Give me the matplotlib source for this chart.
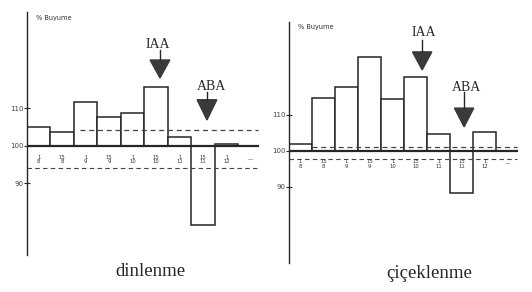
import matplotlib
matplotlib.use("Agg")
import matplotlib.pyplot as plt
from matplotlib.patches import Polygon

# ---- data ----
positions = list(range(10))
left_values = [105.1, 103.7, 111.7, 107.7, 108.8, 115.7, 102.4, 79.0, 100.6]
right_values = [101.9, 114.7, 117.8, 126.1, 114.4, 120.6, 104.7, 88.3, 105.3]
base = 100
tick_vals = [90, 100, 110]
tick_labels = ["90", "100", "110"]
bar_labels = ["1\n8", "15\n8", "1\n9", "15\n9", "1\n10", "15\n10", "1\n11", "15\n11", "1\n12", "—"]
left_title = "dinlenme"
right_title = "çiçeklenme"
ylabel = "% Buyume"
left_upper_dash, left_lower_dash = 104.3, 94.1
right_upper_dash, right_lower_dash = 101.1, 97.8

W, H = 532, 292
fig = plt.figure(figsize=(W / 100, H / 100), dpi=100)
fig.patch.set_facecolor("white")
ink = "#262626"
serif = ["Liberation Serif", "DejaVu Serif"]


def px_axes(x0, x1, y0, y1):
    return fig.add_axes([x0 / W, 1 - y1 / H, (x1 - x0) / W, (y1 - y0) / H])


def draw_panel(ax, values, ylim, xlim, udash, ldash, udash_x0, arrows, title_xy, title):
    ax.set_xlim(*xlim)
    ax.set_ylim(*ylim)
    for s in ["top", "right", "bottom"]:
        ax.spines[s].set_visible(False)
    ax.spines["left"].set_color(ink)
    ax.spines["left"].set_linewidth(1.0)
    ax.set_xticks([])
    ax.set_yticks(tick_vals)
    ax.set_yticklabels(tick_labels, fontsize=5, color="#444")
    ax.tick_params(axis="y", direction="inout", length=5, width=0.8, color=ink, pad=0)
    heights = [v - base for v in values]
    ax.bar(positions[:len(values)], heights, bottom=base, width=1.0, align="edge",
           facecolor="white", edgecolor=ink, linewidth=1.1, zorder=2)
    ax.axhline(base, xmin=0, xmax=0.97, color=ink, lw=1.6, zorder=3)
    ax.hlines(udash, udash_x0, xlim[1] - 0.3, colors="#444", linestyles=(0, (4, 3)), lw=0.9, zorder=3)
    ax.hlines(ldash, 0, xlim[1] - 0.3, colors="#444", linestyles=(0, (4, 3)), lw=0.8, zorder=3)
    for p, lab in zip(positions, bar_labels):
        ax.text(p + 0.5, base - 3.6, lab, fontsize=3.8, ha="center", va="center",
                color="#333", linespacing=0.85, zorder=4)
    for name, tx, ty, ax_x, top, hb, tip in arrows:
        ax.text(tx, ty, name, fontsize=10, family=serif, ha="center", va="center", color=ink)
        ax.plot([ax_x, ax_x], [top, hb], color=ink, lw=1.0)
        tri = Polygon([[ax_x - 0.42, hb], [ax_x + 0.42, hb], [ax_x, tip]], closed=True,
                      facecolor="#3a3a3a", edgecolor="#3a3a3a")
        ax.add_patch(tri)
    ax.text(0.4, ylim[1] - 1.5, ylabel, fontsize=4.8, color="#333", va="center")
    fig.text(title_xy[0] / W, 1 - title_xy[1] / H, title, fontsize=13.5, family=serif,
             ha="center", va="center", color=ink)


axL = px_axes(27, 265, 12, 255)
draw_panel(axL, left_values, (70.9, 135.7), (0, 10.13), left_upper_dash, left_lower_dash, 2.25,
           [("IAA", 5.57, 126.9, 5.66, 125.6, 122.9, 118.1),
            ("ABA", 7.87, 115.7, 7.66, 114.4, 112.3, 106.9)],
           (150, 272), left_title)

axR = px_axes(289, 524, 22, 263)
draw_panel(axR, right_values, (68.9, 135.8), (0, 10.2), right_upper_dash, right_lower_dash, 1.0,
           [("IAA", 5.83, 132.8, 5.78, 130.8, 127.5, 122.5),
            ("ABA", 7.7, 117.5, 7.6, 116.4, 111.9, 106.7)],
           (429, 273), right_title)

fig.savefig("out.png", dpi=100, facecolor="white")
